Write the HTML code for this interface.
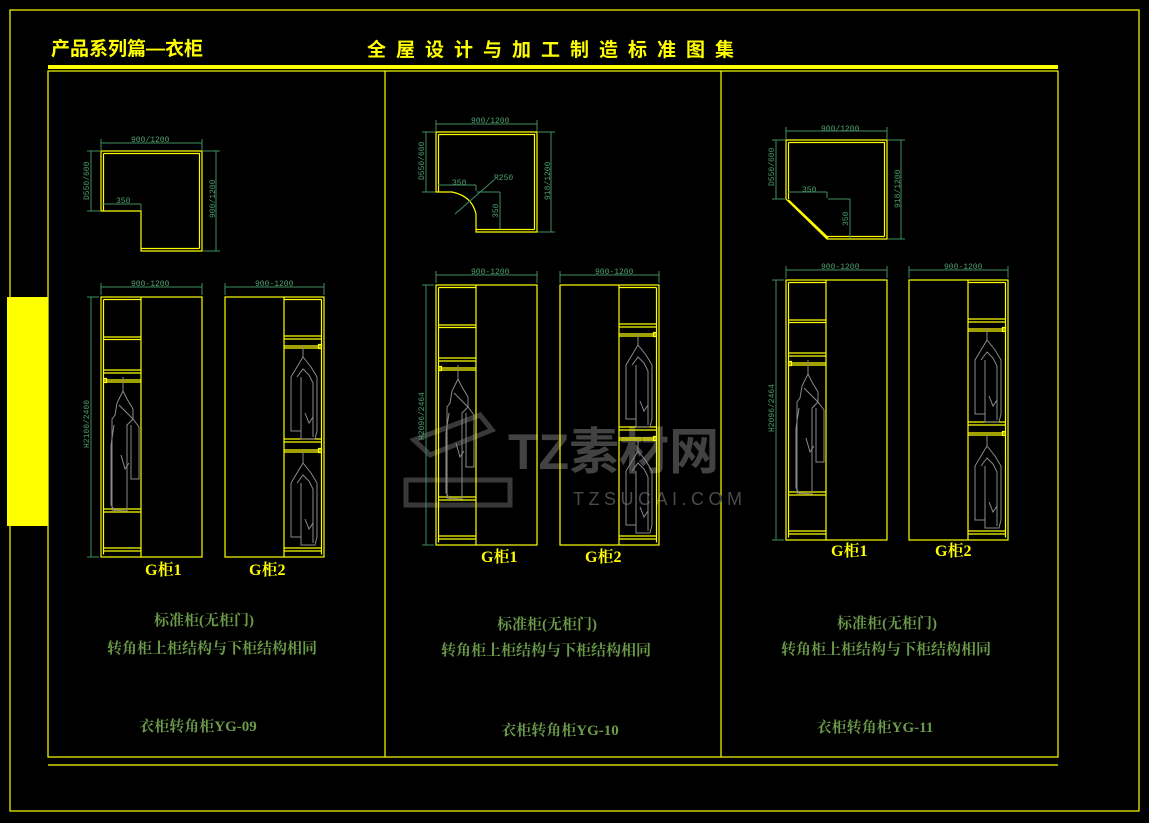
<!DOCTYPE html>
<html><head><meta charset="utf-8"><style>
html,body{margin:0;padding:0;background:#000;}
svg{display:block}
.t{font-family:"Liberation Serif","Noto Serif CJK SC","Noto Sans CJK SC",serif;}
.h{font-family:"Liberation Sans","Noto Sans CJK SC",sans-serif;}
</style></head><body>
<svg width="1149" height="823" viewBox="0 0 1149 823" xmlns="http://www.w3.org/2000/svg">
<defs>
  <g id="coat" fill="none" stroke="#8a8a8a" stroke-width="1">
    <line x1="14" y1="-8" x2="14" y2="6"/>
    <path d="M14 6 L8 18 L6 30 L3 34 L3 125 L18 126 L18 40 L24 34 L24 24 L18 14 Z"/>
    <path d="M10 20 L20 30 L24 34 L30 42 L30 94 L22 94 L22 40"/>
    <path d="M5 40 L2 60 L2 120 L6 126"/>
    <path d="M12 70 L16 84 L20 78"/>
  </g>
  <g id="coat2" fill="none" stroke="#8a8a8a" stroke-width="1">
    <line x1="14" y1="-8" x2="14" y2="4"/>
    <path d="M14 4 L8 14 L2 24 L2 78 L12 78 L12 86 L26 86 L28 78 L28 24 L22 14 Z"/>
    <path d="M8 24 L14 16 L20 22 L24 30 L24 84"/>
    <path d="M12 24 L12 78"/>
    <path d="M16 60 L20 70 L24 64"/>
  </g>
  <g id="g1" fill="none" stroke="#ffff00" stroke-width="1.2">
    <rect x="0" y="0" width="101" height="260"/>
    <line x1="2.5" y1="2.5" x2="2.5" y2="257.5"/>
    <line x1="2.5" y1="2.5" x2="40" y2="2.5"/>
    <line x1="40" y1="0" x2="40" y2="260"/>
    <line x1="2.5" y1="40" x2="40" y2="40"/><line x1="2.5" y1="42.5" x2="40" y2="42.5"/>
    <line x1="2.5" y1="73" x2="40" y2="73"/><line x1="2.5" y1="76" x2="40" y2="76"/>
    <line x1="2.5" y1="83" x2="40" y2="83"/><line x1="2.5" y1="85" x2="40" y2="85"/>
    <rect x="2.5" y="81.5" width="3" height="4"/>
    <line x1="2.5" y1="212" x2="40" y2="212"/><line x1="2.5" y1="215" x2="40" y2="215"/>
    <line x1="2.5" y1="251" x2="40" y2="251"/><line x1="2.5" y1="254" x2="40" y2="254"/>
    <use href="#coat" x="8" y="88"/>
  </g>
  <g id="g2" fill="none" stroke="#ffff00" stroke-width="1.2">
    <rect x="0" y="0" width="99" height="260"/>
    <line x1="59" y1="0" x2="59" y2="260"/>
    <line x1="96.5" y1="2.5" x2="96.5" y2="257.5"/>
    <line x1="59" y1="2.5" x2="96.5" y2="2.5"/>
    <line x1="59" y1="39" x2="96.5" y2="39"/><line x1="59" y1="42" x2="96.5" y2="42"/>
    <line x1="59" y1="49" x2="96.5" y2="49"/><line x1="59" y1="51" x2="96.5" y2="51"/>
    <rect x="93.5" y="47.5" width="3" height="4"/>
    <line x1="59" y1="142" x2="96.5" y2="142"/><line x1="59" y1="145" x2="96.5" y2="145"/>
    <line x1="59" y1="153" x2="96.5" y2="153"/><line x1="59" y1="155" x2="96.5" y2="155"/>
    <rect x="93.5" y="151.5" width="3" height="4"/>
    <line x1="59" y1="251" x2="96.5" y2="251"/><line x1="59" y1="254" x2="96.5" y2="254"/>
    <use href="#coat2" x="64" y="56"/>
    <use href="#coat2" x="64" y="162"/>
  </g>
  <g id="dims" fill="none" stroke="#3f8f5f" stroke-width="1">
    <line x1="0" y1="-10" x2="101" y2="-10"/>
    <line x1="0" y1="-14" x2="0" y2="-2"/><line x1="101" y1="-14" x2="101" y2="-2"/>
    <line x1="-10" y1="0" x2="-10" y2="260"/>
    <line x1="-14" y1="0" x2="-2" y2="0"/><line x1="-14" y1="260" x2="-2" y2="260"/>
  </g>
  <g id="dims2" fill="none" stroke="#3f8f5f" stroke-width="1">
    <line x1="0" y1="-10" x2="99" y2="-10"/>
    <line x1="0" y1="-14" x2="0" y2="-2"/><line x1="99" y1="-14" x2="99" y2="-2"/>
  </g>
</defs>

<!-- frames -->
<rect x="10" y="10" width="1129" height="801" fill="none" stroke="#ffff00" stroke-width="1.2"/>
<rect x="7" y="297" width="41" height="229" fill="#ffff00"/>
<rect x="48" y="65" width="1010" height="4" fill="#ffff00"/>
<rect x="48" y="71" width="1010" height="686" fill="none" stroke="#ffff00" stroke-width="1.2"/>
<line x1="385" y1="71" x2="385" y2="757" stroke="#ffff00" stroke-width="1.2"/>
<line x1="721" y1="71" x2="721" y2="757" stroke="#ffff00" stroke-width="1.2"/>
<line x1="48" y1="765" x2="1058" y2="765" stroke="#ffff00" stroke-width="1.2"/>

<text class="h" x="51" y="55" fill="#ffff00" font-size="19" font-weight="bold">产品系列篇—衣柜</text>
<text class="h" x="367" y="56" fill="#ffff00" font-size="19" font-weight="bold" letter-spacing="10">全屋设计与加工制造标准图集</text>

<!-- watermark -->
<text x="508" y="469" fill="#4a4a4a" font-family="Liberation Sans,'Noto Sans CJK SC',sans-serif" font-size="50" font-weight="bold" opacity="0.9">TZ素材网</text>
<text x="573" y="505" fill="#4a4a4a" font-family="Liberation Sans,sans-serif" font-size="18" letter-spacing="4.5">TZSUCAI.COM</text>
<g fill="none" stroke="#444" stroke-width="5" opacity="0.85">
  <path d="M414 440 L480 415 L492 430 L430 455 Z"/>
  <path d="M406 480 L510 480 L510 505 L406 505 Z"/>
</g>

<!-- PANEL 1 -->
<g fill="none" stroke="#ffff00" stroke-width="1.2">
  <path d="M101 151 L202 151 L202 251 L141 251 L141 211 L101 211 Z"/>
  <path d="M103.5 153.5 L199.5 153.5 L199.5 248.5 M141 248.5 L199.5 248.5 M103.5 153.5 L103.5 211"/>
</g>
<g fill="none" stroke="#3f8f5f" stroke-width="1">
  <line x1="101" y1="143" x2="202" y2="143"/><line x1="101" y1="139" x2="101" y2="150"/><line x1="202" y1="139" x2="202" y2="150"/>
  <line x1="91" y1="151" x2="91" y2="211"/><line x1="87" y1="151" x2="100" y2="151"/><line x1="87" y1="211" x2="100" y2="211"/>
  <line x1="216" y1="151" x2="216" y2="251"/><line x1="203" y1="151" x2="220" y2="151"/><line x1="203" y1="251" x2="220" y2="251"/>
  <line x1="101" y1="204" x2="141" y2="204"/><line x1="141" y1="204" x2="141" y2="210"/>
</g>
<g fill="#4f9f6f" font-family="Liberation Mono,monospace" font-size="8">
  <text x="131" y="142">900/1200</text>
  <text x="116" y="203">350</text>
  <text transform="translate(89,200) rotate(-90)">D550/600</text>
  <text transform="translate(215,218) rotate(-90)">900/1200</text>
</g>
<use href="#g1" x="101" y="297"/><use href="#dims" x="101" y="297"/>
<use href="#g2" x="225" y="297"/><use href="#dims2" x="225" y="297"/>
<g fill="#4f9f6f" font-family="Liberation Mono,monospace" font-size="8">
  <text x="131" y="286">900-1200</text>
  <text x="255" y="286">900-1200</text>
  <text transform="translate(89,448) rotate(-90)">H2100/2400</text>
</g>
<text class="t" x="145" y="575" fill="#ffff00" font-size="16" font-weight="bold">G柜1</text>
<text class="t" x="249" y="575" fill="#ffff00" font-size="16" font-weight="bold">G柜2</text>
<g class="t" fill="#6a9a4a" font-size="15" font-weight="bold" text-anchor="middle">
  <text x="204" y="625">标准柜(无柜门)</text>
  <text x="212" y="653">转角柜上柜结构与下柜结构相同</text>
  <text x="198" y="731">衣柜转角柜YG-09</text>
</g>

<!-- PANEL 2 -->
<g fill="none" stroke="#ffff00" stroke-width="1.2">
  <path d="M436 132 L537 132 L537 232 L476 232 L476 214 Q472 196 452 192 L436 192 Z"/>
  <path d="M438.5 134.5 L534.5 134.5 L534.5 229.5 M476 229.5 L534.5 229.5 M438.5 134.5 L438.5 192"/>
</g>
<g fill="none" stroke="#3f8f5f" stroke-width="1">
  <line x1="436" y1="124" x2="537" y2="124"/><line x1="436" y1="120" x2="436" y2="131"/><line x1="537" y1="120" x2="537" y2="131"/>
  <line x1="426" y1="132" x2="426" y2="192"/><line x1="422" y1="132" x2="435" y2="132"/><line x1="422" y1="192" x2="435" y2="192"/>
  <line x1="551" y1="132" x2="551" y2="232"/><line x1="538" y1="132" x2="555" y2="132"/><line x1="538" y1="232" x2="555" y2="232"/>
  <line x1="438" y1="185" x2="476" y2="185"/><line x1="476" y1="185" x2="476" y2="191"/>
  <line x1="500" y1="192" x2="500" y2="229"/><line x1="477" y1="192" x2="500" y2="192"/>
  <line x1="455" y1="214" x2="494" y2="180"/>
</g>
<g fill="#4f9f6f" font-family="Liberation Mono,monospace" font-size="8">
  <text x="471" y="123">900/1200</text>
  <text x="452" y="185">350</text>
  <text x="494" y="180">R250</text>
  <text transform="translate(498,218) rotate(-90)">350</text>
  <text transform="translate(424,180) rotate(-90)">D550/600</text>
  <text transform="translate(550,200) rotate(-90)">918/1200</text>
</g>
<use href="#g1" x="436" y="285"/><use href="#dims" x="436" y="285"/>
<use href="#g2" x="560" y="285"/><use href="#dims2" x="560" y="285"/>
<g fill="#4f9f6f" font-family="Liberation Mono,monospace" font-size="8">
  <text x="471" y="274">900-1200</text>
  <text x="595" y="274">900-1200</text>
  <text transform="translate(424,440) rotate(-90)">H2096/2464</text>
</g>
<text class="t" x="481" y="562" fill="#ffff00" font-size="16" font-weight="bold">G柜1</text>
<text class="t" x="585" y="562" fill="#ffff00" font-size="16" font-weight="bold">G柜2</text>
<g class="t" fill="#6a9a4a" font-size="15" font-weight="bold" text-anchor="middle">
  <text x="547" y="629">标准柜(无柜门)</text>
  <text x="546" y="655">转角柜上柜结构与下柜结构相同</text>
  <text x="560" y="735">衣柜转角柜YG-10</text>
</g>

<!-- PANEL 3 -->
<g fill="none" stroke="#ffff00" stroke-width="1.2">
  <path d="M786 140 L887 140 L887 239 L827 239 L786 199 Z"/>
  <path d="M788.5 142.5 L884.5 142.5 L884.5 236.5 M827 236.5 L884.5 236.5 M788.5 142.5 L788.5 199"/>
  <path d="M788 200 L828 238" stroke-width="2"/>
</g>
<g fill="none" stroke="#3f8f5f" stroke-width="1">
  <line x1="786" y1="131" x2="887" y2="131"/><line x1="786" y1="127" x2="786" y2="139"/><line x1="887" y1="127" x2="887" y2="139"/>
  <line x1="776" y1="140" x2="776" y2="199"/><line x1="772" y1="140" x2="785" y2="140"/><line x1="772" y1="199" x2="785" y2="199"/>
  <line x1="901" y1="140" x2="901" y2="239"/><line x1="888" y1="140" x2="905" y2="140"/><line x1="888" y1="239" x2="905" y2="239"/>
  <line x1="788" y1="192" x2="827" y2="192"/><line x1="827" y1="192" x2="827" y2="198"/>
  <line x1="850" y1="199" x2="850" y2="238"/><line x1="828" y1="199" x2="850" y2="199"/>
</g>
<g fill="#4f9f6f" font-family="Liberation Mono,monospace" font-size="8">
  <text x="821" y="131">900/1200</text>
  <text x="802" y="192">350</text>
  <text transform="translate(848,226) rotate(-90)">350</text>
  <text transform="translate(774,186) rotate(-90)">D550/600</text>
  <text transform="translate(900,208) rotate(-90)">918/1200</text>
</g>
<use href="#g1" x="786" y="280"/><use href="#dims" x="786" y="280"/>
<use href="#g2" x="909" y="280"/><use href="#dims2" x="909" y="280"/>
<g fill="#4f9f6f" font-family="Liberation Mono,monospace" font-size="8">
  <text x="821" y="269">900-1200</text>
  <text x="944" y="269">900-1200</text>
  <text transform="translate(774,432) rotate(-90)">H2096/2464</text>
</g>
<text class="t" x="831" y="556" fill="#ffff00" font-size="16" font-weight="bold">G柜1</text>
<text class="t" x="935" y="556" fill="#ffff00" font-size="16" font-weight="bold">G柜2</text>
<g class="t" fill="#6a9a4a" font-size="15" font-weight="bold" text-anchor="middle">
  <text x="887" y="628">标准柜(无柜门)</text>
  <text x="886" y="654">转角柜上柜结构与下柜结构相同</text>
  <text x="875" y="732">衣柜转角柜YG-11</text>
</g>
</svg>
</body></html>
